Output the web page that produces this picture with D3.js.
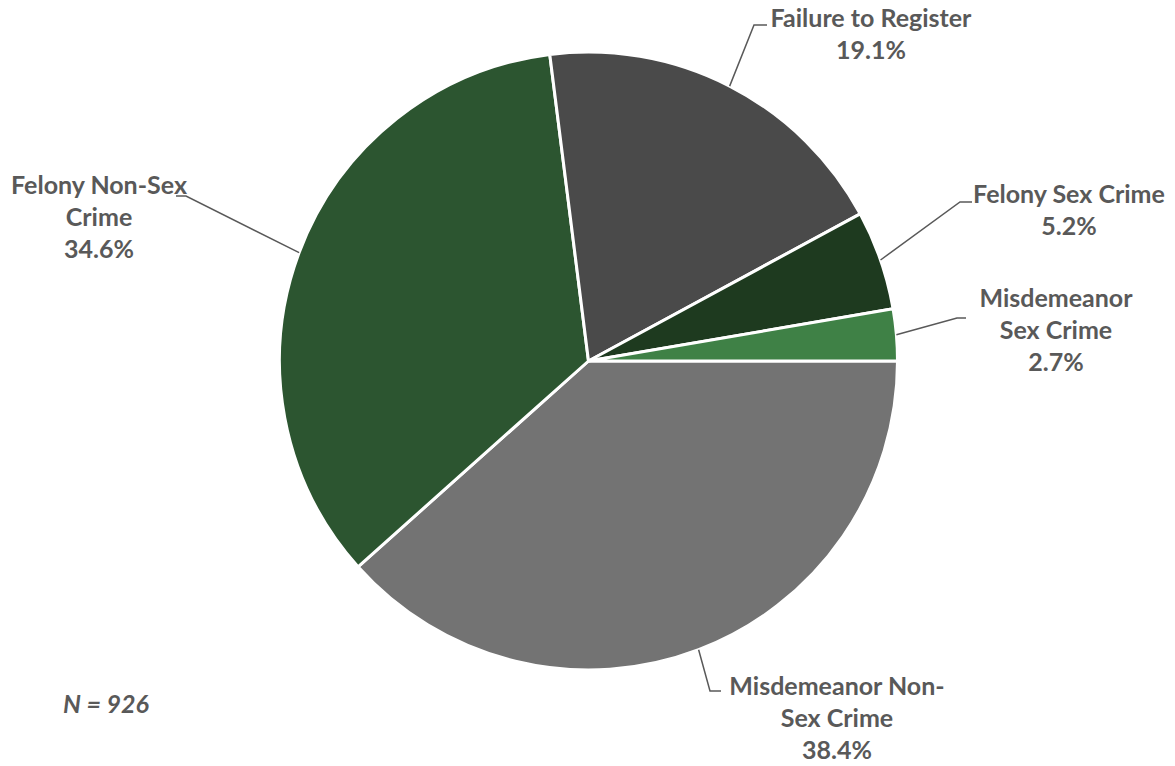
<!DOCTYPE html>
<html>
<head>
<meta charset="utf-8">
<script src="https://cdn.jsdelivr.net/npm/d3@7"></script>
<style>
  body { margin: 0; background: #fff; }
  svg text { font-family: Lato, "Open Sans", sans-serif; font-weight: bold; fill: #595959; }
</style>
</head>
<body>
<svg id="chart" width="1175" height="766"></svg>
<script>
// slices clockwise from 3 o'clock
const categories = ['Misdemeanor Non-Sex Crime', 'Felony Non-Sex Crime', 'Failure to Register', 'Felony Sex Crime', 'Misdemeanor Sex Crime'];
const percents = [38.4, 34.6, 19.1, 5.2, 2.7];
const labelLines = [
  ['Misdemeanor Non-', 'Sex Crime'],
  ['Felony Non-Sex', 'Crime'],
  ['Failure to Register'],
  ['Felony Sex Crime'],
  ['Misdemeanor', 'Sex Crime']
];
const colors = ['#737373', '#2c5530', '#4a4a4a', '#1e3a1f', '#3f8146'];
const sampleSize = 926;

// where each label sits, and the bend of its leader line
const labelLayout = [
  { cx: 837, y: 695, elbow: [710, 691], end: [721, 691] },
  { cx: 99, y: 194, elbow: [186, 196], end: [176, 196] },
  { cx: 871, y: 27, elbow: [754, 25], end: [767, 25] },
  { cx: 1069, y: 203, elbow: [960, 202], end: [972, 202] },
  { cx: 1056, y: 307, elbow: [957, 318], end: [966, 318] }
];

const cx = 588.5, cy = 361, radius = 309;
const svg = d3.select('#chart');

const pie = d3.pie()
    .sort(null)
    .value((d) => d.value)
    .startAngle(Math.PI / 2)
    .endAngle(Math.PI / 2 + 2 * Math.PI);

const arcs = pie(categories.map((c, i) => ({ name: c, value: percents[i], index: i })));
const arc = d3.arc().innerRadius(0).outerRadius(radius);

const g = svg.append('g').attr('transform', `translate(${cx},${cy})`);

g.selectAll('path')
  .data(arcs)
  .enter().append('path')
    .attr('d', arc)
    .attr('fill', (d) => colors[d.data.index])
    .attr('stroke', '#fff')
    .attr('stroke-width', 3)
    .attr('stroke-linejoin', 'round');

// leader lines from the arc edge at the slice middle
const leaders = svg.append('g').attr('class', 'leaders');
arcs.forEach((d) => {
  const mid = (d.startAngle + d.endAngle) / 2;
  const start = [cx + radius * Math.sin(mid), cy - radius * Math.cos(mid)];
  const lay = labelLayout[d.data.index];
  leaders.append('polyline')
    .attr('points', [start, lay.elbow, lay.end].map((p) => p.join(',')).join(' '))
    .attr('fill', 'none')
    .attr('stroke', '#595959')
    .attr('stroke-width', 1.5);
});

const fmt = d3.format('.1f');
const labels = svg.append('g').attr('class', 'labels');
arcs.forEach((d) => {
  const i = d.data.index;
  const lay = labelLayout[i];
  const lines = labelLines[i].concat([fmt(percents[i]) + '%']);
  const t = labels.append('text')
    .attr('text-anchor', 'middle')
    .attr('font-size', 25);
  lines.forEach((line, k) => {
    t.append('tspan')
      .attr('x', lay.cx)
      .attr('y', lay.y + k * 32)
      .text(line);
  });
});

svg.append('text')
  .attr('x', 63)
  .attr('y', 713)
  .attr('font-size', 25)
  .attr('font-style', 'italic')
  .text(`N = ${sampleSize}`);
</script>
</body>
</html>
